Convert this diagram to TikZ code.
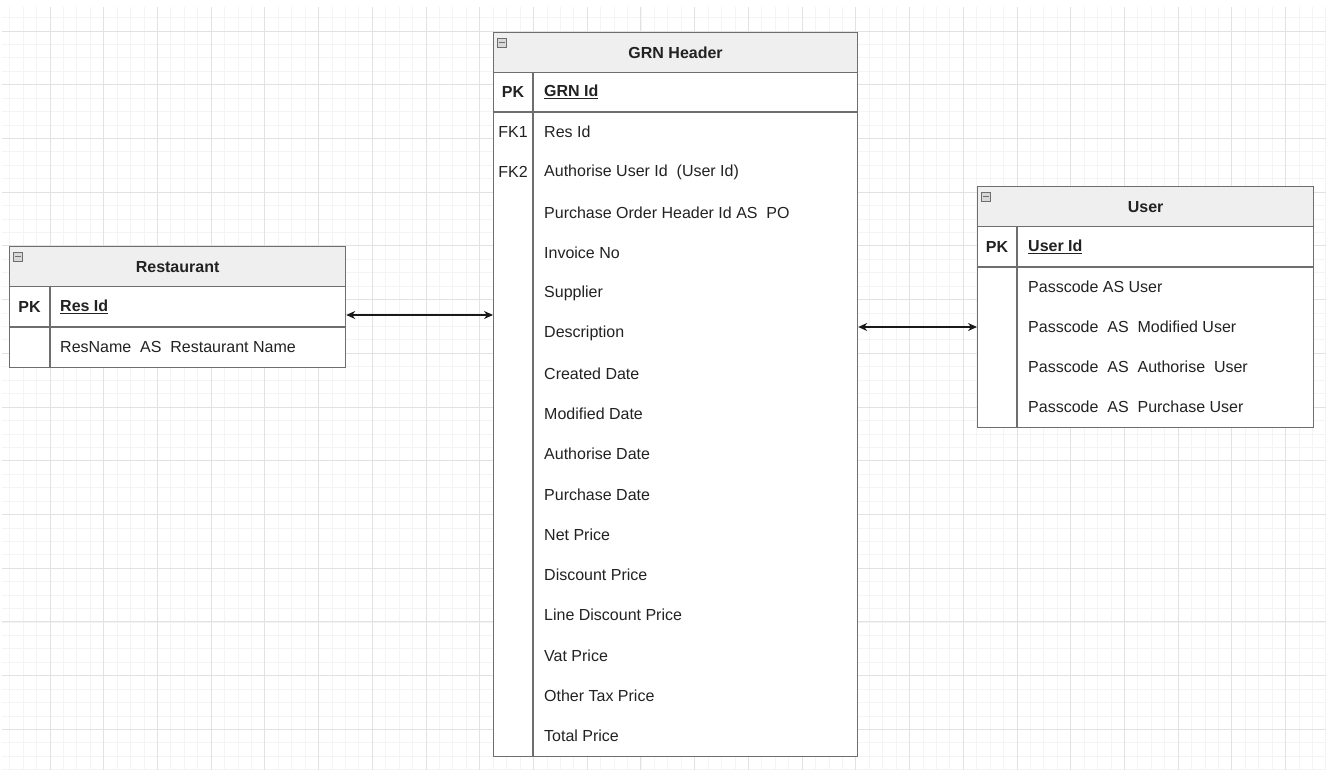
\documentclass[tikz,border=0pt]{standalone}
\usepackage{fontspec}
\setmainfont{Liberation Sans}
\usetikzlibrary{arrows.meta}
\definecolor{bordc}{HTML}{6E6E6E}
\definecolor{hdrfill}{HTML}{EFEFEF}
\definecolor{txtc}{HTML}{222222}
\definecolor{gridmin}{HTML}{F4F4F4}
\definecolor{gridmaj}{HTML}{E2E2E2}
\definecolor{iconfill}{HTML}{D8D8D8}
\newcommand{\tfont}{\fontsize{16}{18}\selectfont}
\tikzset{
  tbox/.style={draw=bordc, line width=1.2pt, fill=white, inner sep=0pt, anchor=north west},
  hdrbox/.style={tbox, fill=hdrfill, font=\bfseries\tfont, text=txtc},
  tline/.style={draw=bordc, line width=1.2pt},
  pkline/.style={draw=bordc, line width=2pt},
  keytxt/.style={font=\bfseries\tfont, text=txtc, inner sep=0pt, anchor=center},
  fktxt/.style={font=\tfont, text=txtc, inner sep=0pt, anchor=center},
  fieldtxt/.style={font=\tfont, text=txtc, inner sep=0pt, anchor=west},
  pkname/.style={font=\bfseries\tfont, text=txtc, inner sep=0pt, anchor=west},
  icon/.style={draw=bordc, fill=iconfill, line width=0.6pt, minimum width=9pt, minimum height=9pt, inner sep=0pt, anchor=north west},
  rel/.style={{Stealth[length=9pt,width=8pt]}-{Stealth[length=9pt,width=8pt]}, line width=1.4pt, draw=black!90}
}
\begin{document}
\begin{tikzpicture}[x=1pt,y=-1pt]
\useasboundingbox (0,0) rectangle (1326,770);
\fill[white] (0,0) rectangle (1326,770);
% grid
\foreach \i in {0,...,98} {\draw[gridmin, line width=0.8pt] ({9.7+\i*13.43},7) -- ({9.7+\i*13.43},770);}
\foreach \j in {0,...,56} {\draw[gridmin, line width=0.8pt] (2,{17.57+\j*13.43}) -- (1326,{17.57+\j*13.43});}
\foreach \i in {0,...,23} {\draw[gridmaj, line width=0.9pt] ({50+\i*53.72},7) -- ({50+\i*53.72},770);}
\foreach \j in {0,...,13} {\draw[gridmaj, line width=0.9pt] (2,{31+\j*53.72}) -- (1326,{31+\j*53.72});}

% ---------------- Restaurant ----------------
\node[hdrbox, minimum width=336pt, minimum height=40pt] (rh) at (9,246) {Restaurant};
\node[tbox, minimum width=336pt, minimum height=81pt] (rb) at (9,286) {};
\node[icon] (ri) at (13,252) {};
\draw[bordc, line width=0.8pt] ([xshift=2pt]ri.west) -- ([xshift=-2pt]ri.east);
\draw[tline] ([xshift=41pt]rb.north west) -- ([xshift=41pt]rb.south west);
\draw[pkline] ([yshift=-41pt]rb.north west) -- ([yshift=-41pt]rb.north east);
\node[keytxt] (rpk) at (29.5,306.5) {PK};
\node[pkname] (rid) at (60,306.5) {\underline{Res Id}};
\node[fieldtxt] (rf1) at (60,347) {ResName~ AS~ Restaurant Name};

% ---------------- GRN Header ----------------
\node[hdrbox, minimum width=364pt, minimum height=40pt] (gh) at (493,32) {GRN Header};
\node[tbox, minimum width=364pt, minimum height=684pt] (gb) at (493,72) {};
\node[icon] (gi) at (497,38) {};
\draw[bordc, line width=0.8pt] ([xshift=2pt]gi.west) -- ([xshift=-2pt]gi.east);
\draw[tline] ([xshift=40pt]gb.north west) -- ([xshift=40pt]gb.south west);
\draw[pkline] ([yshift=-40pt]gb.north west) -- ([yshift=-40pt]gb.north east);
\node[keytxt] (gpk) at (513,92) {PK};
\node[pkname] (gid) at (544,92) {\underline{GRN Id}};
\node[fktxt] (gfk1) at (513,132.1) {FK1};
\node[fktxt] (gfk2) at (513,172.4) {FK2};
\foreach \t [count=\k] in {{Res Id},{Authorise User Id~ (User Id)},{Purchase Order Header Id AS~ PO},{Invoice No},{Supplier},{Description},{Created Date},{Modified Date},{Authorise Date},{Purchase Date},{Net Price},{Discount Price},{Line Discount Price},{Vat Price},{Other Tax Price},{Total Price}}
  {\node[fieldtxt] (g\k) at (544,{112+40.25*(\k-0.5)}) {\t};}

% ---------------- User ----------------
\node[hdrbox, minimum width=336pt, minimum height=40pt] (uh) at (977,186) {User};
\node[tbox, minimum width=336pt, minimum height=201pt] (ub) at (977,226) {};
\node[icon] (ui) at (981,192) {};
\draw[bordc, line width=0.8pt] ([xshift=2pt]ui.west) -- ([xshift=-2pt]ui.east);
\draw[tline] ([xshift=40pt]ub.north west) -- ([xshift=40pt]ub.south west);
\draw[pkline] ([yshift=-41pt]ub.north west) -- ([yshift=-41pt]ub.north east);
\node[keytxt] (upk) at (997,246.5) {PK};
\node[pkname] (uid) at (1028,246.5) {\underline{User Id}};
\foreach \t [count=\k] in {{Passcode AS User},{Passcode~ AS~ Modified User},{Passcode~ AS~ Authorise~ User},{Passcode~ AS~ Purchase User}}
  {\node[fieldtxt] (u\k) at (1028,{267+40*(\k-0.5)}) {\t};}

% ---------------- connectors ----------------
\coordinate (c1) at (0,315);
\coordinate (c2) at (0,327);
\draw[rel] (rb.east |- c1) -- (gb.west |- c1);
\draw[rel] (gb.east |- c2) -- (ub.west |- c2);
\end{tikzpicture}
\end{document}
